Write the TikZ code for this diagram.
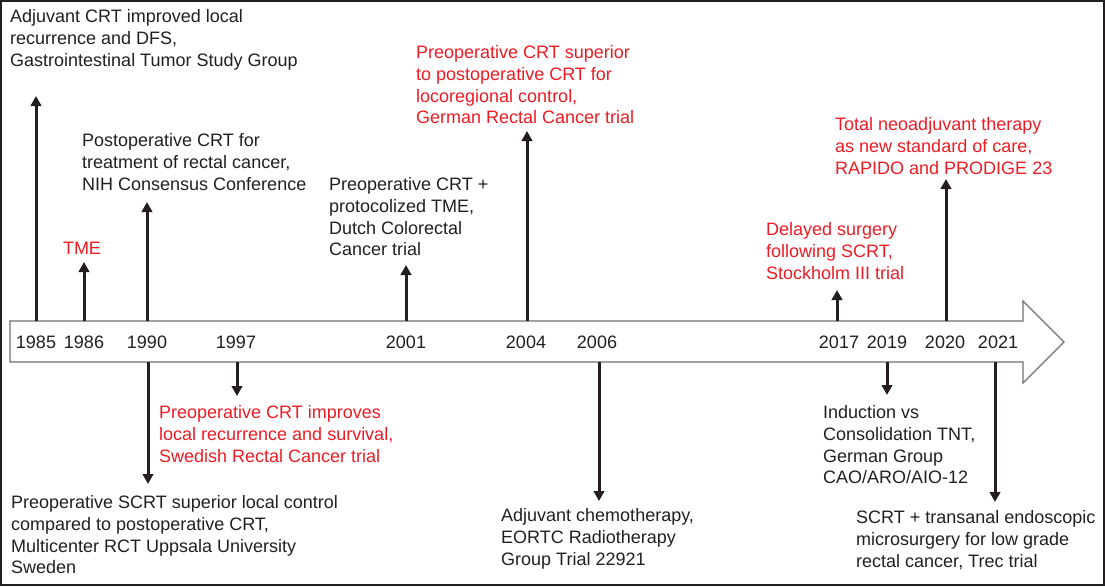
\documentclass[tikz,border=0pt]{standalone}
\usepackage{fontspec}
\setmainfont{Liberation Sans}
\usetikzlibrary{arrows.meta}
\definecolor{ink}{HTML}{231F20}
\definecolor{hl}{HTML}{ED1C24}
\definecolor{barline}{HTML}{707070}
\tikzset{
  lbl/.style={anchor=north west, inner sep=0pt, align=left, text=ink, font=\fontsize{18}{21.7}\selectfont},
  redlbl/.style={lbl, text=hl},
  yearlbl/.style={anchor=center, inner sep=0pt, text=ink, font=\fontsize{18}{21.7}\selectfont},
  evarrow/.style={draw=ink, line width=3pt, -{Triangle[width=10.5pt,length=10pt]}},
}
\begin{document}
\begin{tikzpicture}[x=1pt,y=-1pt]
\useasboundingbox (0,0) rectangle (1105,586);
\draw[ink, line width=2pt] (1,1) rectangle (1104,585);

% timeline bar
\draw[barline, line width=1.3pt, fill=white]
  (10,321) -- (1023,321) -- (1023,301) -- (1064,342) -- (1023,383) -- (1023,362) -- (10,362) -- cycle;

% year labels
\node[yearlbl] (y85) at (36,342) {1985};
\node[yearlbl] (y86) at (84,342) {1986};
\node[yearlbl] (y90) at (147,342) {1990};
\node[yearlbl] (y97) at (236,342) {1997};
\node[yearlbl] (y01) at (406,342) {2001};
\node[yearlbl] (y04) at (526,342) {2004};
\node[yearlbl] (y06) at (597,342) {2006};
\node[yearlbl] (y17) at (839,342) {2017};
\node[yearlbl] (y19) at (887,342) {2019};
\node[yearlbl] (y20) at (945,342) {2020};
\node[yearlbl] (y21) at (998,342) {2021};

% event texts above
\node[lbl] (t85) at (10,9.5) {Adjuvant CRT improved local\\recurrence and DFS,\\Gastrointestinal Tumor Study Group};
\node[redlbl, anchor=center] (t86) at (82,248) {TME};
\node[lbl] (t90u) at (82,133.5) {Postoperative CRT for\\treatment of rectal cancer,\\NIH Consensus Conference};
\node[lbl] (t01) at (329,177.5) {Preoperative CRT +\\protocolized TME,\\Dutch Colorectal\\Cancer trial};
\node[redlbl] (t04) at (416,45.5) {Preoperative CRT superior\\to postoperative CRT for\\locoregional control,\\German Rectal Cancer trial};
\node[redlbl] (t17) at (766,222.5) {Delayed surgery\\following SCRT,\\Stockholm III trial};
\node[redlbl] (t20) at (835,117.5) {Total neoadjuvant therapy\\as new standard of care,\\RAPIDO and PRODIGE 23};

% event texts below
\node[lbl] (t90d) at (11,495.5) {Preoperative SCRT superior local control\\compared to postoperative CRT,\\Multicenter RCT Uppsala University\\Sweden};
\node[redlbl] (t97) at (159,405.5) {Preoperative CRT improves\\local recurrence and survival,\\Swedish Rectal Cancer trial};
\node[lbl] (t06) at (501,508.5) {Adjuvant chemotherapy,\\EORTC Radiotherapy\\Group Trial 22921};
\node[lbl] (t19) at (823,405.5) {Induction vs\\Consolidation TNT,\\German Group\\CAO/ARO/AIO-12};
\node[lbl] (t21) at (856,510.5) {SCRT + transanal endoscopic\\microsurgery for low grade\\rectal cancer, Trec trial};

% anchor points on the bar and arrow tips
\coordinate (b85) at (36,321);  \coordinate (e85) at (36,96);
\coordinate (b86) at (84,321);  \coordinate (e86) at (84,262);
\coordinate (b90u) at (147,321); \coordinate (e90u) at (147,202);
\coordinate (b01) at (406,321); \coordinate (e01) at (406,265);
\coordinate (b04) at (527,321); \coordinate (e04) at (527,131);
\coordinate (b17) at (837,321); \coordinate (e17) at (837,290);
\coordinate (b20) at (946,321); \coordinate (e20) at (946,179);
\coordinate (b90d) at (148,362); \coordinate (e90d) at (148,484);
\coordinate (b97) at (237,362); \coordinate (e97) at (237,396);
\coordinate (b06) at (599,362); \coordinate (e06) at (599,501);
\coordinate (b19) at (887,362); \coordinate (e19) at (887,395);
\coordinate (b21) at (995,362); \coordinate (e21) at (995,502);

\foreach \k in {85,86,90u,01,04,17,20,90d,97,06,19,21}
  \draw[evarrow] (b\k) -- (e\k);
\end{tikzpicture}
\end{document}
